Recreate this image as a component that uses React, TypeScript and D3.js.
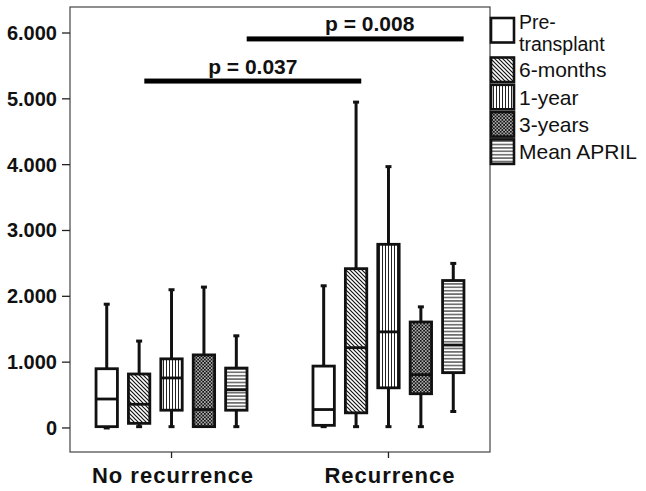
import React from "react";
import * as d3 from "d3";

// ---- data ----
const groups = ["No recurrence", "Recurrence"];
const seriesNames = ["Pre-transplant", "6-months", "1-year", "3-years", "Mean APRIL"];
const legendLines = [["Pre-", "transplant"], ["6-months"], ["1-year"], ["3-years"], ["Mean APRIL"]];
const tickValues = [0, 1000, 2000, 3000, 4000, 5000, 6000];
const tickLabels = ["0", "1.000", "2.000", "3.000", "4.000", "5.000", "6.000"];

// box stats per series: [min, q1, median, q3, max]
const noRecurrence = [
  [0, 20, 440, 900, 1880],
  [20, 70, 360, 820, 1320],
  [20, 270, 760, 1050, 2100],
  [20, 20, 280, 1110, 2140],
  [20, 270, 580, 910, 1400],
];
const recurrence = [
  [20, 40, 280, 940, 2160],
  [20, 230, 1220, 2420, 4950],
  [20, 610, 1460, 2790, 3970],
  [20, 520, 810, 1610, 1840],
  [250, 840, 1260, 2240, 2500],
];
const groupStats = [noRecurrence, recurrence];

// significance bars: offset in box slots from group centre
const sigLabels = ["p = 0.037", "p = 0.008"];
const sigValues = [5270, 5910];
const sigOffsets = [-0.84, 2.32];
const sigLabelShift = [0, 0.45];

const W = 646;
const H = 491;
const frame = { left: 70, right: 490, top: 7, bottom: 452 };
const patternIds = ["none", "diag", "vert", "dots", "horiz"];

export default function App() {
  const y = d3.scaleLinear().domain([-365, 6395]).range([frame.bottom, frame.top]);
  const x = d3.scalePoint<string>().domain(groups).range([frame.left, frame.right]).padding(0.468);
  const inner = d3
    .scaleBand<string>()
    .domain(seriesNames)
    .range([-81, 81])
    .paddingInner(0.34)
    .paddingOuter(0.17);
  const bw = inner.bandwidth();
  const step = inner.step();

  const fillFor = (i: number) => (i === 0 ? "#fff" : `url(#${patternIds[i]})`);

  return (
    <svg
      width={W}
      height={H}
      style={{ position: "absolute", left: 0, top: 0, background: "#fff" }}
      fontFamily="'Liberation Sans', Arial, sans-serif"
    >
      <defs>
        <pattern id="diag" width="4" height="4" patternUnits="userSpaceOnUse">
          <rect width="4" height="4" fill="#fff" />
          <path d="M-1,-1 L5,5 M-1,3 L1,5 M3,-1 L5,1" stroke="#111" strokeWidth="1.2" />
        </pattern>
        <pattern id="vert" width="3" height="3" patternUnits="userSpaceOnUse">
          <rect width="3" height="3" fill="#fff" />
          <line x1="1.5" y1="0" x2="1.5" y2="3" stroke="#222" strokeWidth="1" />
        </pattern>
        <pattern id="dots" width="3.4" height="3.4" patternUnits="userSpaceOnUse">
          <rect width="3.4" height="3.4" fill="#111" />
          <circle cx="0.85" cy="0.85" r="0.75" fill="#fff" />
          <circle cx="2.55" cy="2.55" r="0.75" fill="#fff" />
        </pattern>
        <pattern id="horiz" width="4" height="3.4" patternUnits="userSpaceOnUse">
          <rect width="4" height="3.4" fill="#fff" />
          <line x1="0" y1="1.7" x2="4" y2="1.7" stroke="#222" strokeWidth="1.1" />
        </pattern>
      </defs>

      {/* frame */}
      <rect
        x={frame.left}
        y={frame.top}
        width={frame.right - frame.left}
        height={frame.bottom - frame.top}
        fill="none"
        stroke="#444"
        strokeWidth={1.2}
      />

      {/* y axis */}
      {tickValues.map((v, i) => (
        <g key={v}>
          <line x1={frame.left - 8} x2={frame.left} y1={y(v)} y2={y(v)} stroke="#222" strokeWidth={1.3} />
          <text
            x={frame.left - 13}
            y={y(v)}
            textAnchor="end"
            dominantBaseline="central"
            fontSize={20}
            fontWeight="bold"
            fill="#111"
          >
            {tickLabels[i]}
          </text>
        </g>
      ))}

      {/* x axis */}
      {groups.map((g) => (
        <g key={g}>
          <line x1={x(g)} x2={x(g)} y1={frame.bottom} y2={frame.bottom + 6} stroke="#222" strokeWidth={1.3} />
          <text
            x={(x(g) as number) + 1.5}
            y={483}
            textAnchor="middle"
            fontSize={22}
            fontWeight="bold"
            letterSpacing={1}
            fill="#111"
          >
            {g}
          </text>
        </g>
      ))}

      {/* boxes */}
      {groups.map((g, gi) =>
        seriesNames.map((s, si) => {
          const [mn, q1, med, q3, mx] = groupStats[gi][si];
          const x0 = (x(g) as number) + (inner(s) as number);
          const cx = x0 + bw / 2;
          return (
            <g key={g + s}>
              {mx > q3 && (
                <>
                  <line x1={cx} x2={cx} y1={y(q3)} y2={y(mx)} stroke="#111" strokeWidth={3} />
                  <line x1={cx - 3} x2={cx + 3} y1={y(mx)} y2={y(mx)} stroke="#111" strokeWidth={3} />
                </>
              )}
              {mn < q1 && (
                <>
                  <line x1={cx} x2={cx} y1={y(q1)} y2={y(mn)} stroke="#111" strokeWidth={3} />
                  <line x1={cx - 3} x2={cx + 3} y1={y(mn)} y2={y(mn)} stroke="#111" strokeWidth={3} />
                </>
              )}
              <rect
                x={x0}
                y={y(q3)}
                width={bw}
                height={y(q1) - y(q3)}
                fill={fillFor(si)}
                stroke="#111"
                strokeWidth={2.8}
              />
              <line x1={x0} x2={x0 + bw} y1={y(med)} y2={y(med)} stroke="#111" strokeWidth={2.8} />
            </g>
          );
        })
      )}

      {/* significance bars */}
      {sigLabels.map((lab, i) => {
        const x1 = (x(groups[0]) as number) + sigOffsets[i] * step;
        const x2 = (x(groups[1]) as number) + sigOffsets[i] * step;
        const yy = y(sigValues[i]);
        return (
          <g key={lab}>
            <rect x={x1} y={yy - 2.5} width={x2 - x1} height={5} fill="#000" />
            <text
              x={(x1 + x2) / 2 + sigLabelShift[i] * step}
              y={yy - 7.5}
              textAnchor="middle"
              fontSize={21}
              fontWeight="bold"
              fill="#111"
            >
              {lab}
            </text>
          </g>
        );
      })}

      {/* legend */}
      {seriesNames.map((s, i) => {
        const top = i === 0 ? 18 : 57.5 + (i - 1) * 27.3;
        const boxH = 24.5;
        const lines = legendLines[i];
        const tx = frame.right + 29;
        return (
          <g key={s}>
            <rect
              x={frame.right + 1}
              y={top}
              width={23}
              height={boxH}
              fill={fillFor(i)}
              stroke="#111"
              strokeWidth={2.6}
            />
            {lines.map((ln, li) => (
              <text
                key={ln}
                x={tx}
                y={lines.length === 1 ? top + boxH / 2 + 7.5 : 29 + li * 22}
                fontSize={lines.length === 1 ? 21 : 19.5}
                fill="#111"
              >
                {ln}
              </text>
            ))}
          </g>
        );
      })}
    </svg>
  );
}
